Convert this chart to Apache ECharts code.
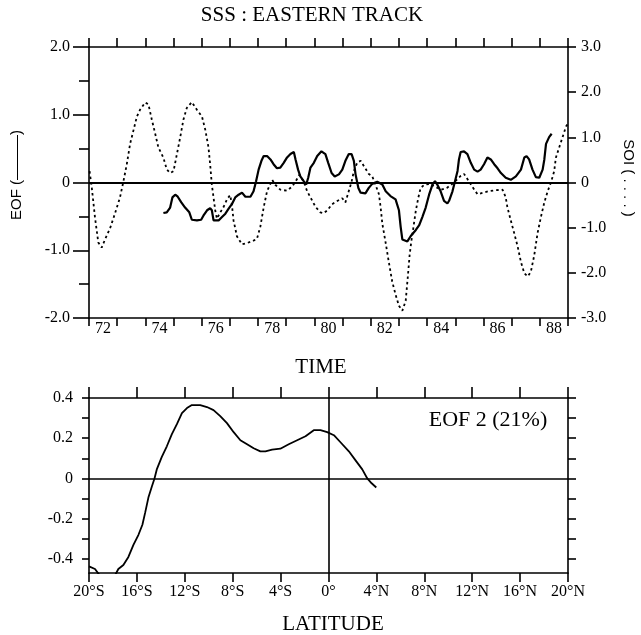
<!DOCTYPE html>
<html>
<head>
<meta charset="utf-8">
<script src="https://cdn.jsdelivr.net/npm/echarts@6/dist/echarts.min.js"></script>
<style>html,body{margin:0;padding:0;background:#fff;}#c{width:641px;height:635px;}</style>
</head>
<body>
<div id="c"></div>
<script>
// ---- Data ----
var yearLabels = ['72','73','74','75','76','77','78','79','80','81','82','83','84','85','86','87','88'];

var eofTime = [74.64,74.76,74.88,74.96,75.06,75.15,75.27,75.41,75.56,75.65,75.83,75.98,76.06,76.19,76.30,76.36,76.42,76.60,76.72,76.84,76.95,77.07,77.19,77.31,77.43,77.55,77.73,77.84,77.93,78.02,78.12,78.20,78.32,78.44,78.55,78.67,78.79,78.91,79.03,79.15,79.27,79.33,79.42,79.50,79.62,79.71,79.78,79.86,79.98,80.10,80.25,80.39,80.49,80.61,80.72,80.87,80.99,81.10,81.22,81.32,81.40,81.46,81.56,81.64,81.81,81.93,82.05,82.23,82.41,82.53,82.70,82.88,83.00,83.06,83.12,83.30,83.42,83.48,83.60,83.72,83.83,83.95,84.07,84.19,84.28,84.36,84.48,84.60,84.72,84.78,84.90,84.99,85.08,85.13,85.19,85.31,85.43,85.55,85.67,85.79,85.90,86.02,86.14,86.26,86.38,86.50,86.62,86.79,86.97,87.15,87.33,87.45,87.53,87.62,87.74,87.86,87.98,88.10,88.16,88.22,88.33,88.42];
var eofValues = [-0.45,-0.44,-0.37,-0.22,-0.18,-0.21,-0.29,-0.37,-0.44,-0.55,-0.56,-0.55,-0.49,-0.41,-0.38,-0.41,-0.56,-0.56,-0.51,-0.46,-0.39,-0.32,-0.22,-0.18,-0.15,-0.21,-0.21,-0.13,0.02,0.19,0.32,0.39,0.39,0.34,0.27,0.21,0.22,0.29,0.37,0.42,0.45,0.34,0.19,0.09,0.02,-0.03,0.07,0.22,0.29,0.39,0.46,0.42,0.29,0.14,0.09,0.12,0.19,0.32,0.42,0.42,0.32,0.12,-0.08,-0.15,-0.16,-0.08,-0.02,0.01,-0.03,-0.13,-0.20,-0.25,-0.41,-0.65,-0.84,-0.87,-0.79,-0.77,-0.70,-0.63,-0.51,-0.37,-0.18,-0.03,0.02,-0.03,-0.13,-0.27,-0.31,-0.27,-0.13,0.02,0.17,0.34,0.45,0.46,0.42,0.29,0.19,0.16,0.19,0.27,0.37,0.34,0.27,0.21,0.14,0.07,0.04,0.09,0.19,0.37,0.39,0.34,0.19,0.08,0.07,0.19,0.34,0.57,0.67,0.72];

var soiTime = [72.02,72.10,72.21,72.33,72.45,72.57,72.75,72.92,73.10,73.22,73.34,73.46,73.58,73.70,73.81,73.99,74.11,74.23,74.35,74.46,74.64,74.76,74.88,75.00,75.12,75.24,75.35,75.47,75.65,75.83,76.01,76.13,76.24,76.30,76.36,76.42,76.48,76.54,76.66,76.77,76.90,77.01,77.07,77.13,77.25,77.43,77.61,77.79,77.96,78.08,78.20,78.32,78.50,78.61,78.79,79.03,79.21,79.33,79.47,79.62,79.74,79.86,80.04,80.21,80.33,80.45,80.63,80.81,80.99,81.10,81.22,81.32,81.40,81.52,81.64,81.76,81.93,82.05,82.17,82.29,82.35,82.41,82.53,82.64,82.76,82.88,83.00,83.12,83.24,83.32,83.38,83.44,83.50,83.60,83.69,83.77,83.90,84.10,84.30,84.50,84.70,84.90,85.05,85.20,85.31,85.49,85.61,85.79,85.96,86.20,86.44,86.68,86.79,86.85,86.97,87.09,87.21,87.33,87.45,87.57,87.68,87.80,87.92,88.04,88.16,88.28,88.39,88.51,88.57,88.69,88.81,88.93,89.00];
var soiValues = [0.25,-0.12,-0.76,-1.33,-1.44,-1.26,-1.01,-0.69,-0.33,0.02,0.40,0.86,1.16,1.46,1.61,1.77,1.73,1.39,1.08,0.78,0.55,0.29,0.21,0.25,0.63,1.01,1.39,1.65,1.78,1.61,1.46,1.16,0.78,0.40,-0.05,-0.33,-0.62,-0.80,-0.66,-0.55,-0.37,-0.28,-0.48,-0.84,-1.19,-1.37,-1.34,-1.30,-1.25,-0.98,-0.55,-0.19,0.06,-0.05,-0.16,-0.18,-0.09,0.02,0.17,0.02,-0.19,-0.33,-0.54,-0.66,-0.68,-0.62,-0.48,-0.41,-0.35,-0.44,-0.19,0.02,0.25,0.44,0.48,0.36,0.19,0.14,-0.05,-0.26,-0.55,-0.91,-1.34,-1.76,-2.19,-2.48,-2.73,-2.84,-2.62,-2.05,-1.60,-1.30,-1.05,-0.62,-0.33,-0.12,-0.05,-0.03,-0.10,-0.16,-0.12,-0.03,0.06,0.15,0.19,0.02,-0.10,-0.26,-0.23,-0.19,-0.17,-0.16,-0.33,-0.55,-0.84,-1.12,-1.41,-1.76,-2.01,-2.08,-1.98,-1.62,-1.12,-0.76,-0.44,-0.19,-0.01,0.25,0.55,0.78,1.01,1.24,1.31];

var latitudes = [-20,-19.5,-19.0,-18.5,-17.9,-17.55,-17.13,-16.71,-16.29,-15.87,-15.54,-15.31,-15.04,-14.75,-14.53,-14.34,-13.92,-13.50,-13.08,-12.66,-12.24,-11.82,-11.41,-10.71,-10.15,-9.60,-9.04,-8.48,-7.92,-7.36,-6.80,-6.25,-5.69,-5.27,-4.71,-4.02,-3.32,-2.62,-1.92,-1.23,-0.67,-0.11,0.45,1.00,1.70,2.26,2.82,3.24,3.60,3.99];
var eof2Values = [-0.437,-0.45,-0.49,-0.51,-0.49,-0.45,-0.43,-0.39,-0.33,-0.28,-0.23,-0.17,-0.095,-0.04,0,0.045,0.107,0.16,0.22,0.27,0.325,0.35,0.365,0.365,0.355,0.34,0.31,0.275,0.23,0.19,0.17,0.15,0.135,0.135,0.143,0.148,0.17,0.19,0.21,0.24,0.24,0.23,0.215,0.18,0.135,0.09,0.045,0,-0.024,-0.045];

var eofTicks = [-0.4,-0.3,-0.2,-0.1,0,0.1,0.2,0.3,0.4];
var eofLabels = [-0.4,-0.2,0,0.2,0.4];

function zip(a, b) { var r = []; for (var i = 0; i < a.length; i++) r.push([a[i], b[i]]); return r; }

var SERIF = 'Liberation Serif';
var lblStyle = { color: '#000', fontFamily: SERIF, fontSize: 16 };
var lineBlack = { color: '#000', width: 1.6 };
function axLine() { return { show: true, onZero: false, lineStyle: lineBlack }; }
function numFmt(v) { return v === 0 ? '0' : v.toFixed(1); }
function latFmt(v) { return v < 0 ? (-v) + '°S' : (v > 0 ? v + '°N' : '0°'); }

var chart = echarts.init(document.getElementById('c'), null, { renderer: 'canvas' });
chart.setOption({
  animation: false,
  backgroundColor: '#fff',
  grid: [
    { left: 89, right: 73, top: 47, bottom: 317, containLabel: false },
    { left: 89, right: 73, top: 398, bottom: 62, containLabel: false }
  ],
  xAxis: [
    { gridIndex: 0, type: 'value', position: 'bottom', min: 72, max: 89, interval: 1,
      axisLine: axLine(), axisTick: { show: true, inside: false, length: 8, lineStyle: lineBlack },
      axisLabel: { show: false }, splitLine: { show: false } },
    { gridIndex: 0, type: 'value', position: 'top', min: 72, max: 89, interval: 1,
      axisLine: axLine(), axisTick: { show: true, inside: false, length: 9, lineStyle: lineBlack },
      axisLabel: { show: false }, splitLine: { show: false } },
    { gridIndex: 0, type: 'category', position: 'bottom', data: yearLabels, boundaryGap: true,
      axisLine: { show: false, onZero: false }, axisTick: { show: false },
      axisLabel: Object.assign({ interval: 1, margin: 3 }, lblStyle), splitLine: { show: false } },
    { gridIndex: 1, type: 'value', position: 'bottom', min: -20, max: 20, interval: 4,
      axisLine: axLine(), axisTick: { show: true, inside: false, length: 9, lineStyle: lineBlack },
      axisLabel: Object.assign({ margin: 11, formatter: latFmt }, lblStyle), splitLine: { show: false } },
    { gridIndex: 1, type: 'value', position: 'top', min: -20, max: 20, interval: 4,
      axisLine: axLine(), axisTick: { show: true, inside: false, length: 11, lineStyle: lineBlack },
      axisLabel: { show: false }, splitLine: { show: false } }
  ],
  yAxis: [
    { gridIndex: 0, type: 'value', position: 'left', min: -2, max: 2, interval: 1,
      axisLine: axLine(), axisTick: { show: true, inside: false, length: 16, lineStyle: lineBlack },
      minorTick: { show: true, splitNumber: 2, length: 10, lineStyle: { color: '#000', width: 1.6 } },
      axisLabel: Object.assign({ margin: 19, formatter: numFmt }, lblStyle), splitLine: { show: false } },
    { gridIndex: 0, type: 'value', position: 'right', min: -3, max: 3, interval: 1,
      axisLine: axLine(), axisTick: { show: true, inside: false, length: 8, lineStyle: lineBlack },
      axisLabel: Object.assign({ margin: 13, formatter: numFmt }, lblStyle), splitLine: { show: false } },
    { gridIndex: 1, type: 'value', position: 'left', min: -0.47, max: 0.4,
      axisLine: axLine(), axisTick: { show: true, inside: false, length: 7, customValues: eofTicks, lineStyle: lineBlack },
      axisLabel: Object.assign({ margin: 16, customValues: eofLabels, formatter: numFmt }, lblStyle), splitLine: { show: false } },
    { gridIndex: 1, type: 'value', position: 'right', min: -0.47, max: 0.4,
      axisLine: axLine(), axisTick: { show: true, inside: false, length: 8, customValues: eofTicks, lineStyle: lineBlack },
      axisLabel: { show: false }, splitLine: { show: false } }
  ],
  series: [
    { name: 'EOF', type: 'line', xAxisIndex: 0, yAxisIndex: 0, data: zip(eofTime, eofValues),
      showSymbol: false, symbol: 'none', lineStyle: { color: '#000', width: 2.2 }, z: 3,
      markLine: { silent: true, symbol: ['none', 'none'], label: { show: false },
        lineStyle: { color: '#000', width: 2, type: 'solid' }, data: [{ yAxis: 0 }] } },
    { name: 'SOI', type: 'line', xAxisIndex: 0, yAxisIndex: 1, data: zip(soiTime, soiValues),
      showSymbol: false, symbol: 'none', lineStyle: { color: '#000', width: 1.8, type: [2.5, 3] }, z: 2 },
    { name: 'EOF 2', type: 'line', xAxisIndex: 3, yAxisIndex: 2, data: zip(latitudes, eof2Values),
      showSymbol: false, symbol: 'none', clip: true, lineStyle: { color: '#000', width: 1.8 },
      markLine: { silent: true, symbol: ['none', 'none'], label: { show: false },
        lineStyle: { color: '#000', width: 1.6, type: 'solid' }, data: [{ yAxis: 0 }, { xAxis: 0 }] } }
  ],
  graphic: [
    { type: 'text', x: 312, y: 15, style: { text: 'SSS : EASTERN TRACK', font: '21px "Liberation Serif"', fill: '#000', textAlign: 'center', textVerticalAlign: 'middle' } },
    { type: 'text', x: 321, y: 367, style: { text: 'TIME', font: '21px "Liberation Serif"', fill: '#000', textAlign: 'center', textVerticalAlign: 'middle' } },
    { type: 'text', x: 333, y: 624, style: { text: 'LATITUDE', font: '21px "Liberation Serif"', fill: '#000', textAlign: 'center', textVerticalAlign: 'middle' } },
    { type: 'text', x: 488, y: 420, style: { text: 'EOF 2 (21%)', font: '22px "Liberation Serif"', fill: '#000', textAlign: 'center', textVerticalAlign: 'middle' } },
    { type: 'text', x: 17, y: 175, rotation: Math.PI / 2, style: { text: 'EOF (———)', font: '15px "Liberation Sans"', fill: '#000', textAlign: 'center', textVerticalAlign: 'middle' } },
    { type: 'text', x: 628, y: 178, rotation: -Math.PI / 2, style: { text: 'SOI ( . . . . )', font: '15px "Liberation Sans"', fill: '#000', textAlign: 'center', textVerticalAlign: 'middle' } }
  ]
});
</script>
</body>
</html>
